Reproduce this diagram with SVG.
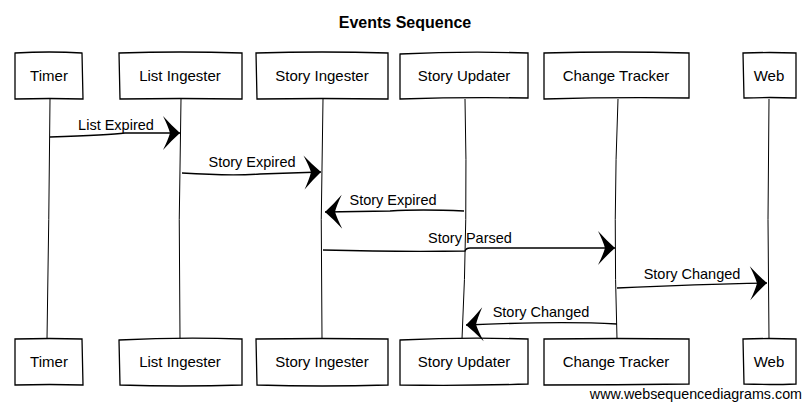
<svg xmlns="http://www.w3.org/2000/svg" width="810" height="408" viewBox="0 0 810 408">
<style>
.box{fill:#fff;stroke:#000;stroke-width:1.3}
.life{fill:none;stroke:#000;stroke-width:1}
.msg{fill:none;stroke:#000;stroke-width:1.3;marker-end:url(#ah)}
.t{font-family:"Liberation Sans",Arial,sans-serif;font-size:15px;fill:#000;text-anchor:middle}
.lbl{font-family:"Liberation Sans",Arial,sans-serif;font-size:14.5px;fill:#000;text-anchor:middle}
.title{font-family:"Liberation Sans",Arial,sans-serif;font-size:16px;font-weight:bold;fill:#000;text-anchor:middle}
.wm{font-family:"Liberation Sans",Arial,sans-serif;font-size:14.3px;fill:#000;text-anchor:end}
</style>
<defs>
<marker id="ah" markerUnits="userSpaceOnUse" viewBox="-19 -18 20 36" refX="0" refY="0" markerWidth="20" markerHeight="36" orient="auto">
<path d="M0,0 Q-8,-7 -17,-17 Q-12,-7 -10,0 Q-12,7 -17,17 Q-8,7 0,0 Z" fill="#000"/>
</marker>
</defs>
<rect width="810" height="408" fill="#fff"/>
<text class="title" x="405" y="28">Events Sequence</text>

<g id="timer">
<path class="life" d="M50,99 Q49,220 47,339"/>
<path class="box" d="M15,53 Q50,51 82,53 L83,99 Q50,98 15,99 Z"/>
<text class="t" x="49" y="81">Timer</text>
<path class="box" d="M15,339 Q50,338 82,339 L83,385 Q50,384 15,385 Z"/>
<text class="t" x="49" y="367">Timer</text>
</g>
<g id="list-ingester">
<path class="life" d="M181,99 Q178,220 180,339"/>
<path class="box" d="M119,53 Q180,51 242,53 L242,99 Q180,98 120,99 Z"/>
<text class="t" x="180" y="81">List Ingester</text>
<path class="box" d="M119,340 Q180,337 242,339 L242,385 Q180,387 120,385 Z"/>
<text class="t" x="180" y="367">List Ingester</text>
</g>
<g id="story-ingester">
<path class="life" d="M323,99 Q320,220 322,339"/>
<path class="box" d="M256,53 Q322,51 388,53 L388,99 Q322,98 257,99 Z"/>
<text class="t" x="322" y="81">Story Ingester</text>
<path class="box" d="M256,339 Q322,338 388,339 L388,385 Q322,387 257,385 Z"/>
<text class="t" x="322" y="367">Story Ingester</text>
</g>
<g id="story-updater">
<path class="life" d="M465,99 Q468,220 462,339"/>
<path class="box" d="M400,54 Q465,51 528,53 L528,98 Q465,97 400,99 Z"/>
<text class="t" x="464" y="81">Story Updater</text>
<path class="box" d="M400,340 Q465,337 528,339 L528,384 Q465,386 400,385 Z"/>
<text class="t" x="464" y="367">Story Updater</text>
</g>
<g id="change-tracker">
<path class="life" d="M618,99 Q613,220 617,339"/>
<path class="box" d="M544,53 Q616,51 689,53 L689,98 Q616,97 544,99 Z"/>
<text class="t" x="616" y="81">Change Tracker</text>
<path class="box" d="M544,339 Q616,338 689,339 L689,384 Q616,385 544,385 Z"/>
<text class="t" x="616" y="367">Change Tracker</text>
</g>
<g id="web">
<path class="life" d="M769,99 Q767,220 769,339"/>
<path class="box" d="M743,53 Q770,52 796,53 L796,98 Q770,97 744,98 Z"/>
<text class="t" x="769" y="81">Web</text>
<path class="box" d="M743,339 Q770,338 796,339 L796,384 Q770,385 744,384 Z"/>
<text class="t" x="769" y="367">Web</text>
</g>

<g id="connectors">
<path class="msg" d="M50,137 Q110,135 125,133 L180,133"/>
<text class="lbl" x="116" y="130">List Expired</text>
<path class="msg" d="M182,173 Q230,176 260,174 L321,172"/>
<text class="lbl" x="252" y="167">Story Expired</text>
<path class="msg" d="M464,211 Q420,209 390,211 L325,212"/>
<text class="lbl" x="393" y="205">Story Expired</text>
<path class="msg" d="M323,250 Q400,252 465,251 Q466,248 470,248 L615,248"/>
<text class="lbl" x="470" y="243">Story Parsed</text>
<path class="msg" d="M617,288 Q700,284 767,283"/>
<text class="lbl" x="692" y="279">Story Changed</text>
<path class="msg" d="M617,324 Q560,321 466,325"/>
<text class="lbl" x="541" y="317">Story Changed</text>
</g>

<text class="wm" x="802" y="399">www.websequencediagrams.com</text>
</svg>
